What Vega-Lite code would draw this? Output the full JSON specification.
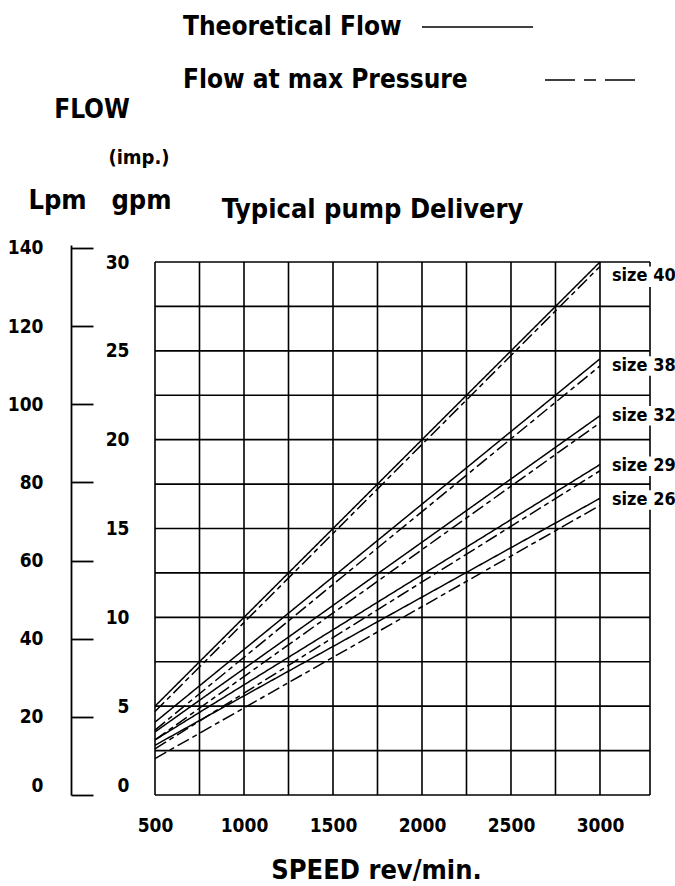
{
  "$schema": "https://vega.github.io/schema/vega-lite/v6.json",
  "width": 495,
  "height": 550,
  "autosize": {"type": "none"},
  "padding": {"left": 155, "top": 245, "right": 25, "bottom": 91},
  "background": "white",
  "config": {
    "view": {"stroke": null},
    "font": "DejaVu Sans Condensed, Roboto",
    "text": {"font": "DejaVu Sans Condensed, Roboto", "fontWeight": "bold", "color": "black"},
    "axis": {"labelFont": "DejaVu Sans Condensed, Roboto", "titleFont": "DejaVu Sans Condensed, Roboto", "labelColor": "black", "titleColor": "black", "labelFontWeight": "bold", "titleFontWeight": "bold"}
  },
  "datasets": {
    "lines": [
      {"series": "40 theoretical", "type": "Theoretical Flow", "rpm": 500, "gpm": 5.0},
      {"series": "40 theoretical", "type": "Theoretical Flow", "rpm": 3000, "gpm": 30.0},
      {"series": "40 max", "type": "Flow at max Pressure", "rpm": 500, "gpm": 4.7},
      {"series": "40 max", "type": "Flow at max Pressure", "rpm": 3000, "gpm": 29.75},
      {"series": "38 theoretical", "type": "Theoretical Flow", "rpm": 500, "gpm": 4.1},
      {"series": "38 theoretical", "type": "Theoretical Flow", "rpm": 3000, "gpm": 24.55},
      {"series": "38 max", "type": "Flow at max Pressure", "rpm": 500, "gpm": 3.65},
      {"series": "38 max", "type": "Flow at max Pressure", "rpm": 3000, "gpm": 24.15},
      {"series": "32 theoretical", "type": "Theoretical Flow", "rpm": 500, "gpm": 3.55},
      {"series": "32 theoretical", "type": "Theoretical Flow", "rpm": 3000, "gpm": 21.35},
      {"series": "32 max", "type": "Flow at max Pressure", "rpm": 500, "gpm": 3.1},
      {"series": "32 max", "type": "Flow at max Pressure", "rpm": 3000, "gpm": 20.95},
      {"series": "29 theoretical", "type": "Theoretical Flow", "rpm": 500, "gpm": 3.1},
      {"series": "29 theoretical", "type": "Theoretical Flow", "rpm": 3000, "gpm": 18.6},
      {"series": "29 max", "type": "Flow at max Pressure", "rpm": 500, "gpm": 2.6},
      {"series": "29 max", "type": "Flow at max Pressure", "rpm": 3000, "gpm": 18.25},
      {"series": "26 theoretical", "type": "Theoretical Flow", "rpm": 500, "gpm": 2.8},
      {"series": "26 theoretical", "type": "Theoretical Flow", "rpm": 3000, "gpm": 16.7},
      {"series": "26 max", "type": "Flow at max Pressure", "rpm": 500, "gpm": 2.05},
      {"series": "26 max", "type": "Flow at max Pressure", "rpm": 3000, "gpm": 16.3}
    ],
    "gridX": [
      {"rpm": 500}, {"rpm": 750}, {"rpm": 1000}, {"rpm": 1250}, {"rpm": 1500}, {"rpm": 1750},
      {"rpm": 2000}, {"rpm": 2250}, {"rpm": 2500}, {"rpm": 2750}, {"rpm": 3000}
    ],
    "gridY": [
      {"gpm": 0}, {"gpm": 2.5}, {"gpm": 5}, {"gpm": 7.5}, {"gpm": 10}, {"gpm": 12.5}, {"gpm": 15},
      {"gpm": 17.5}, {"gpm": 20}, {"gpm": 22.5}, {"gpm": 25}, {"gpm": 27.5}, {"gpm": 30}
    ],
    "border": [
      {"lo": 0, "hi": 16.05}, {"lo": 17.15, "hi": 17.95}, {"lo": 19.05, "hi": 20.8},
      {"lo": 21.9, "hi": 23.6}, {"lo": 24.7, "hi": 28.6}, {"lo": 29.75, "hi": 30}
    ],
    "labels": [
      {"label": "size 40", "rpm": 3067, "gpm": 29.2},
      {"label": "size 38", "rpm": 3067, "gpm": 24.15},
      {"label": "size 32", "rpm": 3067, "gpm": 21.35},
      {"label": "size 29", "rpm": 3067, "gpm": 18.5},
      {"label": "size 26", "rpm": 3067, "gpm": 16.6}
    ],
    "lpm": [{"lpm": 0}, {"lpm": 140}]
  },
  "layer": [
    {
      "layer": [
        {
          "data": {"name": "gridX"},
          "mark": {"type": "rule", "color": "black", "strokeWidth": 1.6},
          "encoding": {
            "x": {"field": "rpm", "type": "quantitative", "scale": {"domain": [500, 3281], "nice": false, "zero": false},
              "axis": {"values": [500, 1000, 1500, 2000, 2500, 3000], "format": "d", "domain": false, "ticks": false, "grid": false, "labelFlush": false, "labelPadding": 21, "labelFontSize": 19, "title": "SPEED rev/min.", "titleFontSize": 27, "titleX": 221, "titleY": 75, "titleAlign": "center", "titleBaseline": "middle"}},
            "y": {"datum": 0, "type": "quantitative", "scale": {"domain": [0, 30.957], "nice": false, "zero": false},
              "axis": {"orient": "left", "offset": 0, "values": [0, 5, 10, 15, 20, 25, 30], "domain": false, "ticks": false, "grid": false, "labelPadding": 26, "labelFontSize": 19, "labelFlush": true, "title": "gpm", "titleFontSize": 27, "titleAngle": 0, "titleX": -14, "titleY": -45, "titleAlign": "center", "titleBaseline": "middle"}},
            "y2": {"datum": 30}
          }
        },
        {
          "data": {"name": "gridY"},
          "mark": {"type": "rule", "color": "black", "strokeWidth": 1.6},
          "encoding": {
            "y": {"field": "gpm", "type": "quantitative", "scale": {"domain": [0, 30.957], "nice": false, "zero": false}},
            "x": {"datum": 500, "type": "quantitative", "scale": {"domain": [500, 3281], "nice": false, "zero": false}},
            "x2": {"datum": 3281}
          }
        },
        {
          "data": {"name": "border"},
          "mark": {"type": "rule", "color": "black", "strokeWidth": 1.6},
          "encoding": {
            "x": {"datum": 3281, "type": "quantitative", "scale": {"domain": [500, 3281], "nice": false, "zero": false}},
            "y": {"field": "lo", "type": "quantitative", "scale": {"domain": [0, 30.957], "nice": false, "zero": false}},
            "y2": {"field": "hi"}
          }
        },
        {
          "data": {"name": "lines"},
          "mark": {"type": "line", "color": "black", "strokeWidth": 1.5},
          "encoding": {
            "x": {"field": "rpm", "type": "quantitative", "scale": {"domain": [500, 3281], "nice": false, "zero": false}},
            "y": {"field": "gpm", "type": "quantitative", "scale": {"domain": [0, 30.957], "nice": false, "zero": false}},
            "detail": {"field": "series"},
            "strokeDash": {"field": "type", "type": "nominal", "scale": {"domain": ["Theoretical Flow", "Flow at max Pressure"], "range": [[1, 0], [13, 4, 5, 4]]}, "legend": null}
          }
        },
        {
          "data": {"name": "labels"},
          "mark": {"type": "text", "align": "left", "baseline": "middle", "fontSize": 18},
          "encoding": {
            "x": {"field": "rpm", "type": "quantitative", "scale": {"domain": [500, 3281], "nice": false, "zero": false}},
            "y": {"field": "gpm", "type": "quantitative", "scale": {"domain": [0, 30.957], "nice": false, "zero": false}},
            "text": {"field": "label"}
          }
        },
        {
          "data": {"values": [{}]},
          "mark": {"type": "text", "align": "left", "baseline": "middle", "fontSize": 26, "text": "Theoretical Flow"},
          "encoding": {
            "x": {"datum": 657, "type": "quantitative", "scale": {"domain": [500, 3281], "nice": false, "zero": false}},
            "y": {"datum": 43.23, "type": "quantitative", "scale": {"domain": [0, 30.957], "nice": false, "zero": false}}
          }
        },
        {
          "data": {"values": [{}]},
          "mark": {"type": "text", "align": "left", "baseline": "middle", "fontSize": 26, "text": "Flow at max Pressure"},
          "encoding": {
            "x": {"datum": 657, "type": "quantitative", "scale": {"domain": [500, 3281], "nice": false, "zero": false}},
            "y": {"datum": 40.24, "type": "quantitative", "scale": {"domain": [0, 30.957], "nice": false, "zero": false}}
          }
        },
        {
          "data": {"values": [{}]},
          "mark": {"type": "rule", "color": "black", "strokeWidth": 1.5},
          "encoding": {
            "x": {"datum": 2000, "type": "quantitative", "scale": {"domain": [500, 3281], "nice": false, "zero": false}},
            "x2": {"datum": 2624},
            "y": {"datum": 43.23, "type": "quantitative", "scale": {"domain": [0, 30.957], "nice": false, "zero": false}}
          }
        },
        {
          "data": {"values": [{}]},
          "mark": {"type": "rule", "color": "black", "strokeWidth": 1.5, "strokeDash": [30, 9, 12, 9]},
          "encoding": {
            "x": {"datum": 2691, "type": "quantitative", "scale": {"domain": [500, 3281], "nice": false, "zero": false}},
            "x2": {"datum": 3197},
            "y": {"datum": 40.24, "type": "quantitative", "scale": {"domain": [0, 30.957], "nice": false, "zero": false}}
          }
        },
        {
          "data": {"values": [{}]},
          "mark": {"type": "text", "align": "center", "baseline": "middle", "fontSize": 26, "text": "FLOW"},
          "encoding": {
            "x": {"datum": 146, "type": "quantitative", "scale": {"domain": [500, 3281], "nice": false, "zero": false}},
            "y": {"datum": 38.55, "type": "quantitative", "scale": {"domain": [0, 30.957], "nice": false, "zero": false}}
          }
        },
        {
          "data": {"values": [{}]},
          "mark": {"type": "text", "align": "center", "baseline": "middle", "fontSize": 20, "text": "(imp.)"},
          "encoding": {
            "x": {"datum": 410, "type": "quantitative", "scale": {"domain": [500, 3281], "nice": false, "zero": false}},
            "y": {"datum": 35.85, "type": "quantitative", "scale": {"domain": [0, 30.957], "nice": false, "zero": false}}
          }
        },
        {
          "data": {"values": [{}]},
          "mark": {"type": "text", "align": "center", "baseline": "middle", "fontSize": 27, "text": "Typical pump Delivery"},
          "encoding": {
            "x": {"datum": 1722, "type": "quantitative", "scale": {"domain": [500, 3281], "nice": false, "zero": false}},
            "y": {"datum": 32.93, "type": "quantitative", "scale": {"domain": [0, 30.957], "nice": false, "zero": false}}
          }
        }
      ]
    },
    {
      "data": {"name": "lpm"},
      "mark": {"type": "point", "opacity": 0},
      "encoding": {
        "y": {"field": "lpm", "type": "quantitative", "scale": {"domain": [0, 140.73], "nice": false, "zero": false},
          "axis": {"orient": "left", "offset": 84, "values": [0, 20, 40, 60, 80, 100, 120, 140], "domain": true, "domainColor": "black", "domainWidth": 1.8, "ticks": true, "tickSize": -22, "tickColor": "black", "tickWidth": 1.8, "grid": false, "labelPadding": 50, "labelFontSize": 19, "labelFlush": true, "title": "Lpm", "titleFontSize": 27, "titleAngle": 0, "titleX": -14, "titleY": -45, "titleAlign": "center", "titleBaseline": "middle"}}
      }
    }
  ],
  "resolve": {"scale": {"y": "independent"}}
}
